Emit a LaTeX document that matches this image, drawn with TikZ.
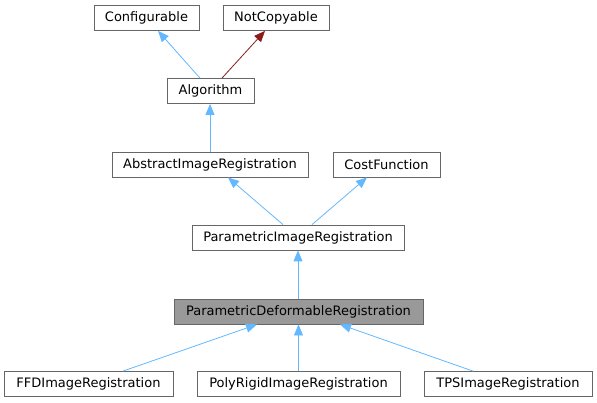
\documentclass[tikz,border=0pt]{standalone}
\usepackage{fontspec}
\setmainfont{DejaVu Sans}
\usetikzlibrary{calc,arrows.meta}
\definecolor{edgeblue}{HTML}{63B8FF}
\definecolor{edgered}{HTML}{8B1A1A}
\definecolor{boxgray}{HTML}{999999}
\definecolor{framegray}{HTML}{666666}

\begin{document}
\begin{tikzpicture}[x=1pt, y=-1pt,
    cls/.style={draw=framegray, fill=white, line width=0.8pt, minimum height=25pt,
                inner sep=0pt, font=\fontsize{13}{15}\selectfont},
    inh/.style={-{Triangle[length=11pt,width=9pt]}, draw=edgeblue, line width=0.8pt},
    usedby/.style={-{Triangle[length=11pt,width=9pt]}, draw=edgered, line width=0.8pt}]
\useasboundingbox (0,0) rectangle (597,403);

% classes
\node[cls, minimum width=105pt] (configurable) at (146.5,18)  {Configurable};
\node[cls, minimum width=106pt] (notcopyable)  at (276,18)    {NotCopyable};
\node[cls, minimum width=87pt]  (algorithm)    at (210.5,91)  {Algorithm};
\node[cls, minimum width=196pt] (abstractreg)  at (210,164.5) {AbstractImageRegistration};
\node[cls, minimum width=107pt] (costfunction) at (386.5,164.5) {CostFunction};
\node[cls, minimum width=212pt] (paramreg)     at (298,237.5) {ParametricImageRegistration};
\node[cls, fill=boxgray, minimum width=249pt] (paramdefreg) at (298.5,311.5) {ParametricDeformableRegistration};
\node[cls, minimum width=169pt] (ffdreg)       at (88.5,384)  {FFDImageRegistration};
\node[cls, minimum width=203pt] (polyreg)      at (298.5,384) {PolyRigidImageRegistration};
\node[cls, minimum width=168pt] (tpsreg)       at (508,384)   {TPSImageRegistration};

% inheritance
\draw[inh] ($(algorithm.north)+(-10.5,0)$) -- ($(configurable.south)+(11.5,0)$);
\draw[usedby] ($(algorithm.north)+(11.5,0)$) -- ($(notcopyable.south)+(-11,0)$);
\draw[inh] (abstractreg.north) -- (abstractreg.north |- algorithm.south);
\draw[inh] ($(paramreg.north)+(-15,0)$) -- ($(abstractreg.south)+(18,0)$);
\draw[inh] ($(paramreg.north)+(14,0)$) -- ($(costfunction.south)+(-19.5,0)$);
\draw[inh] (paramdefreg.north -| paramreg.south) -- (paramreg.south);
\draw[inh] ($(ffdreg.north)+(34.5,0)$) -- ($(paramdefreg.south)+(-41.5,0)$);
\draw[inh] (polyreg.north) -- (polyreg.north |- paramdefreg.south);
\draw[inh] ($(tpsreg.north)+(-35,0)$) -- ($(paramdefreg.south)+(41.5,0)$);
\end{tikzpicture}
\end{document}
